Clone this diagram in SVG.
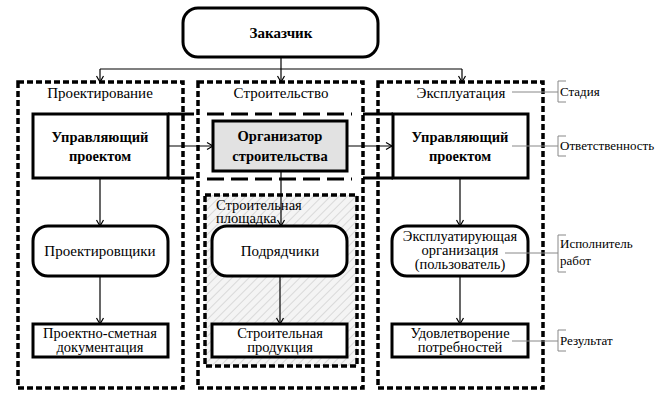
<svg xmlns="http://www.w3.org/2000/svg" width="659" height="393" viewBox="0 0 659 393">
<defs>
<pattern id="hatch" patternUnits="userSpaceOnUse" width="6" height="6" patternTransform="rotate(45)">
<rect width="6" height="6" fill="#f4f4f4"/>
<line x1="0" y1="0" x2="0" y2="6" stroke="#c8c8c8" stroke-width="1.2"/>
</pattern>
<marker id="arr" markerWidth="10" markerHeight="10" refX="8" refY="5" orient="auto" markerUnits="userSpaceOnUse">
<path d="M2,1.5 L8,5 L2,8.5" fill="none" stroke="#000" stroke-width="1.2"/>
</marker>
</defs>
<style>
.node{fill:#fff;stroke:#000;stroke-width:3}
.stage{fill:none;stroke:#000;stroke-width:3.5;stroke-dasharray:6 3}
.site{fill:url(#hatch);stroke:#000;stroke-width:3.5;stroke-dasharray:6 3}
.ldash{fill:none;stroke:#000;stroke-width:3;stroke-dasharray:17 7}
.solid{fill:none;stroke:#000;stroke-width:3}
.con{fill:none;stroke:#000;stroke-width:1.2}
.lead{fill:none;stroke:#888;stroke-width:1}
</style>
<rect width="659" height="393" fill="#fff"/>

<g id="stages">
<rect class="stage" x="18" y="82" width="165" height="306"/>
<rect class="stage" x="198" y="82" width="165" height="306"/>
<rect class="stage" x="378" y="82" width="165" height="306"/>
<text font-family="Liberation Serif" font-size="15" text-anchor="middle" x="100" y="98">Проектирование</text>
<text font-family="Liberation Serif" font-size="15" text-anchor="middle" x="281" y="98">Строительство</text>
<text font-family="Liberation Serif" font-size="15" text-anchor="middle" x="461" y="98">Эксплуатация</text>
</g>

<g id="site">
<rect class="site" x="205" y="195" width="152" height="171"/>
<text font-family="Liberation Serif" font-size="14.5" x="216" y="210">Строительная</text>
<text font-family="Liberation Serif" font-size="14.5" x="216" y="223">площадка</text>
</g>

<g id="responsibility">
<line class="ldash" x1="207" y1="114" x2="352" y2="114"/>
<line class="ldash" x1="207" y1="179" x2="352" y2="179"/>
<path class="solid" d="M168,114 H194 M168,178 H194"/>
<path class="solid" d="M363,114 H393 M363,178 H393"/>
</g>

<g id="connectors">
<path class="con" d="M281,57 V69"/>
<path class="con" d="M100,69 H462"/>
<path class="con" d="M100,69 V82" marker-end="url(#arr)"/>
<path class="con" d="M281,69 V82" marker-end="url(#arr)"/>
<path class="con" d="M462,69 V82" marker-end="url(#arr)"/>
<path class="con" d="M168,146 H213" marker-end="url(#arr)"/>
<path class="con" d="M347,146 H392" marker-end="url(#arr)"/>
<path class="con" d="M100,178 V226" marker-end="url(#arr)"/>
<path class="con" d="M281,171 V226" marker-end="url(#arr)"/>
<path class="con" d="M460,178 V226" marker-end="url(#arr)"/>
<path class="con" d="M100,276 V324" marker-end="url(#arr)"/>
<path class="con" d="M280,276 V324" marker-end="url(#arr)"/>
<path class="con" d="M460,276 V324" marker-end="url(#arr)"/>
</g>

<g id="zakazchik">
<rect class="node" x="183" y="8" width="195" height="49" rx="15"/>
<text font-family="Liberation Serif" font-size="15" font-weight="bold" text-anchor="middle" x="281" y="38">Заказчик</text>
</g>

<g id="upr1">
<rect class="node" x="33" y="114" width="135" height="64"/>
<text font-family="Liberation Serif" font-size="14.5" font-weight="bold" text-anchor="middle" x="100" y="142">Управляющий</text>
<text font-family="Liberation Serif" font-size="14.5" font-weight="bold" text-anchor="middle" x="100" y="161">проектом</text>
</g>

<g id="org">
<rect class="node" x="213" y="121" width="134" height="50" style="fill:#e2e2e2"/>
<text font-family="Liberation Serif" font-size="14.5" font-weight="bold" text-anchor="middle" x="280" y="141">Организатор</text>
<text font-family="Liberation Serif" font-size="14.5" font-weight="bold" text-anchor="middle" x="280" y="161">строительства</text>
</g>

<g id="upr2">
<rect class="node" x="393" y="114" width="135" height="64"/>
<text font-family="Liberation Serif" font-size="14.5" font-weight="bold" text-anchor="middle" x="460" y="142">Управляющий</text>
<text font-family="Liberation Serif" font-size="14.5" font-weight="bold" text-anchor="middle" x="460" y="161">проектом</text>
</g>

<g id="proektirovshiki">
<rect class="node" x="33" y="226" width="135" height="50" rx="15"/>
<text font-family="Liberation Serif" font-size="15" text-anchor="middle" x="100" y="256">Проектировщики</text>
</g>

<g id="podryadchiki">
<rect class="node" x="212" y="226" width="135" height="50" rx="15"/>
<text font-family="Liberation Serif" font-size="15" text-anchor="middle" x="280" y="256">Подрядчики</text>
</g>

<g id="ekspl">
<rect class="node" x="392" y="226" width="136" height="50" rx="15"/>
<text font-family="Liberation Serif" font-size="14.5" text-anchor="middle" x="460" y="241">Эксплуатирующая</text>
<text font-family="Liberation Serif" font-size="14.5" text-anchor="middle" x="460" y="255">организация</text>
<text font-family="Liberation Serif" font-size="14.5" text-anchor="middle" x="460" y="269">(пользователь)</text>
</g>

<g id="psd">
<rect class="node" x="33" y="324" width="135" height="33"/>
<text font-family="Liberation Serif" font-size="14.5" text-anchor="middle" x="100" y="338">Проектно-сметная</text>
<text font-family="Liberation Serif" font-size="14.5" text-anchor="middle" x="100" y="352">документация</text>
</g>

<g id="produkt">
<rect class="node" x="212" y="324" width="135" height="33"/>
<text font-family="Liberation Serif" font-size="14.5" text-anchor="middle" x="280" y="338">Строительная</text>
<text font-family="Liberation Serif" font-size="14.5" text-anchor="middle" x="280" y="352">продукция</text>
</g>

<g id="udovl">
<rect class="node" x="392" y="324" width="136" height="33"/>
<text font-family="Liberation Serif" font-size="14.5" text-anchor="middle" x="460" y="338">Удовлетворение</text>
<text font-family="Liberation Serif" font-size="14.5" text-anchor="middle" x="460" y="352">потребностей</text>
</g>

<g id="legend">
<path class="lead" d="M512,92 H558 M566,81 H558 V102 H566"/>
<text font-family="Liberation Serif" font-size="13" x="560" y="96">Стадия</text>
<path class="lead" d="M512,146 H558 M566,136 H558 V156 H566"/>
<text font-family="Liberation Serif" font-size="13" x="560" y="150">Ответственность</text>
<path class="lead" d="M505,253 H558 M566,235 H558 V272 H566"/>
<text font-family="Liberation Serif" font-size="13" x="560" y="248">Исполнитель</text>
<text font-family="Liberation Serif" font-size="13" x="560" y="265">работ</text>
<path class="lead" d="M512,341 H558 M566,330 H558 V351 H566"/>
<text font-family="Liberation Serif" font-size="13" x="560" y="345">Результат</text>
</g>
</svg>
